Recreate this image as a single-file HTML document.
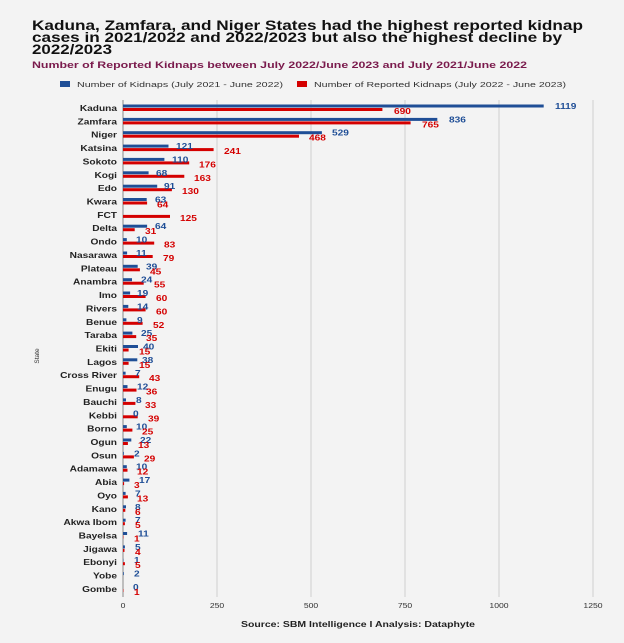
<!DOCTYPE html>
<html><head><meta charset="utf-8"><style>
html,body{margin:0;padding:0;background:#f3f3f3;}
svg{display:block;font-family:"Liberation Sans",sans-serif;}
.s{font-size:8px;font-weight:bold;fill:#222;text-anchor:end;}
.b{font-size:8px;font-weight:bold;fill:#1f4e96;}
.r{font-size:8px;font-weight:bold;fill:#d40000;}
</style></head><body>
<svg width="624" height="643" viewBox="0 0 624 643" xmlns="http://www.w3.org/2000/svg">
<rect width="624" height="643" fill="#f3f3f3"/>
<text x="32" y="30" font-size="14" font-weight="bold" fill="#111" textLength="551" lengthAdjust="spacingAndGlyphs">Kaduna, Zamfara, and Niger States had the highest reported kidnap</text>
<text x="32" y="42" font-size="14" font-weight="bold" fill="#111" textLength="530" lengthAdjust="spacingAndGlyphs">cases in 2021/2022 and 2022/2023 but also the highest decline by</text>
<text x="32" y="54" font-size="14" font-weight="bold" fill="#111" textLength="80" lengthAdjust="spacingAndGlyphs">2022/2023</text>
<text x="32" y="68" font-size="9" font-weight="bold" fill="#7a1a4c" textLength="495" lengthAdjust="spacingAndGlyphs">Number of Reported Kidnaps between July 2022/June 2023 and July 2021/June 2022</text>
<rect x="60" y="81" width="10" height="6" fill="#1f4e96"/>
<text x="77" y="87" font-size="7.6" fill="#333" textLength="206" lengthAdjust="spacingAndGlyphs">Number of Kidnaps (July 2021 - June 2022)</text>
<rect x="297" y="81" width="10" height="6" fill="#d40000"/>
<text x="314" y="87" font-size="7.6" fill="#333" textLength="252" lengthAdjust="spacingAndGlyphs">Number of Reported Kidnaps (July 2022 - June 2023)</text>
<g stroke="#cfcfcf" stroke-width="1">
<line x1="217" y1="100" x2="217" y2="597"/><line x1="311" y1="100" x2="311" y2="597"/>
<line x1="405" y1="100" x2="405" y2="597"/><line x1="499" y1="100" x2="499" y2="597"/>
<line x1="593" y1="100" x2="593" y2="597"/>
</g>
<line x1="123" y1="100" x2="123" y2="597" stroke="#888" stroke-width="1"/>
<g font-size="7.5" fill="#333" text-anchor="middle">
<text transform="translate(123,608) scale(1.15,1)">0</text><text transform="translate(217,608) scale(1.15,1)">250</text><text transform="translate(311,608) scale(1.15,1)">500</text><text transform="translate(405,608) scale(1.15,1)">750</text><text transform="translate(499,608) scale(1.15,1)">1000</text><text transform="translate(593,608) scale(1.15,1)">1250</text>
</g>
<text x="241" y="627" font-size="8" font-weight="bold" fill="#222" textLength="234" lengthAdjust="spacingAndGlyphs">Source: SBM Intelligence I Analysis: Dataphyte</text>
<text transform="translate(39,356) rotate(-90)" font-size="6.5" fill="#333" text-anchor="middle">State</text>
<g transform="translate(0,108)"><text class="s" transform="translate(117,3) scale(1.27,1)">Kaduna</text><rect x="123" y="-3.5" width="420.7" height="3" fill="#1f4e96"/><rect x="123" y="0" width="259.4" height="3" fill="#d40000"/><text class="b" transform="translate(555,1) scale(1.27,1)">1119</text><text class="r" transform="translate(394,6) scale(1.27,1)">690</text></g>
<g transform="translate(0,121.4)"><text class="s" transform="translate(117,3) scale(1.27,1)">Zamfara</text><rect x="123" y="-3.5" width="314.3" height="3" fill="#1f4e96"/><rect x="123" y="0" width="287.6" height="3" fill="#d40000"/><text class="b" transform="translate(449,1) scale(1.27,1)">836</text><text class="r" transform="translate(422,6) scale(1.27,1)">765</text></g>
<g transform="translate(0,134.7)"><text class="s" transform="translate(117,3) scale(1.27,1)">Niger</text><rect x="123" y="-3.5" width="198.9" height="3" fill="#1f4e96"/><rect x="123" y="0" width="176" height="3" fill="#d40000"/><text class="b" transform="translate(332,1) scale(1.27,1)">529</text><text class="r" transform="translate(309,6) scale(1.27,1)">468</text></g>
<g transform="translate(0,148.1)"><text class="s" transform="translate(117,3) scale(1.27,1)">Katsina</text><rect x="123" y="-3.5" width="45.5" height="3" fill="#1f4e96"/><rect x="123" y="0" width="90.6" height="3" fill="#d40000"/><text class="b" transform="translate(176,1) scale(1.27,1)">121</text><text class="r" transform="translate(224,6) scale(1.27,1)">241</text></g>
<g transform="translate(0,161.4)"><text class="s" transform="translate(117,3) scale(1.27,1)">Sokoto</text><rect x="123" y="-3.5" width="41.4" height="3" fill="#1f4e96"/><rect x="123" y="0" width="66.2" height="3" fill="#d40000"/><text class="b" transform="translate(172,1) scale(1.27,1)">110</text><text class="r" transform="translate(199,6) scale(1.27,1)">176</text></g>
<g transform="translate(0,174.8)"><text class="s" transform="translate(117,3) scale(1.27,1)">Kogi</text><rect x="123" y="-3.5" width="25.6" height="3" fill="#1f4e96"/><rect x="123" y="0" width="61.3" height="3" fill="#d40000"/><text class="b" transform="translate(156,1) scale(1.27,1)">68</text><text class="r" transform="translate(194,6) scale(1.27,1)">163</text></g>
<g transform="translate(0,188.2)"><text class="s" transform="translate(117,3) scale(1.27,1)">Edo</text><rect x="123" y="-3.5" width="34.2" height="3" fill="#1f4e96"/><rect x="123" y="0" width="48.9" height="3" fill="#d40000"/><text class="b" transform="translate(164,1) scale(1.27,1)">91</text><text class="r" transform="translate(182,6) scale(1.27,1)">130</text></g>
<g transform="translate(0,201.5)"><text class="s" transform="translate(117,3) scale(1.27,1)">Kwara</text><rect x="123" y="-3.5" width="23.7" height="3" fill="#1f4e96"/><rect x="123" y="0" width="24.1" height="3" fill="#d40000"/><text class="b" transform="translate(155,1) scale(1.27,1)">63</text><text class="r" transform="translate(157,6) scale(1.27,1)">64</text></g>
<g transform="translate(0,214.9)"><text class="s" transform="translate(117,3) scale(1.27,1)">FCT</text><rect x="123" y="0" width="47" height="3" fill="#d40000"/><text class="r" transform="translate(180,6) scale(1.27,1)">125</text></g>
<g transform="translate(0,228.2)"><text class="s" transform="translate(117,3) scale(1.27,1)">Delta</text><rect x="123" y="-3.5" width="24.1" height="3" fill="#1f4e96"/><rect x="123" y="0" width="11.7" height="3" fill="#d40000"/><text class="b" transform="translate(155,1) scale(1.27,1)">64</text><text class="r" transform="translate(145,6) scale(1.27,1)">31</text></g>
<g transform="translate(0,241.6)"><text class="s" transform="translate(117,3) scale(1.27,1)">Ondo</text><rect x="123" y="-3.5" width="3.8" height="3" fill="#1f4e96"/><rect x="123" y="0" width="31.2" height="3" fill="#d40000"/><text class="b" transform="translate(136,1) scale(1.27,1)">10</text><text class="r" transform="translate(164,6) scale(1.27,1)">83</text></g>
<g transform="translate(0,255)"><text class="s" transform="translate(117,3) scale(1.27,1)">Nasarawa</text><rect x="123" y="-3.5" width="4.1" height="3" fill="#1f4e96"/><rect x="123" y="0" width="29.7" height="3" fill="#d40000"/><text class="b" transform="translate(136,1) scale(1.27,1)">11</text><text class="r" transform="translate(163,6) scale(1.27,1)">79</text></g>
<g transform="translate(0,268.3)"><text class="s" transform="translate(117,3) scale(1.27,1)">Plateau</text><rect x="123" y="-3.5" width="14.7" height="3" fill="#1f4e96"/><rect x="123" y="0" width="16.9" height="3" fill="#d40000"/><text class="b" transform="translate(146,1) scale(1.27,1)">39</text><text class="r" transform="translate(150,6) scale(1.27,1)">45</text></g>
<g transform="translate(0,281.7)"><text class="s" transform="translate(117,3) scale(1.27,1)">Anambra</text><rect x="123" y="-3.5" width="9" height="3" fill="#1f4e96"/><rect x="123" y="0" width="20.7" height="3" fill="#d40000"/><text class="b" transform="translate(141,1) scale(1.27,1)">24</text><text class="r" transform="translate(154,6) scale(1.27,1)">55</text></g>
<g transform="translate(0,295)"><text class="s" transform="translate(117,3) scale(1.27,1)">Imo</text><rect x="123" y="-3.5" width="7.1" height="3" fill="#1f4e96"/><rect x="123" y="0" width="22.6" height="3" fill="#d40000"/><text class="b" transform="translate(137,1) scale(1.27,1)">19</text><text class="r" transform="translate(156,6) scale(1.27,1)">60</text></g>
<g transform="translate(0,308.4)"><text class="s" transform="translate(117,3) scale(1.27,1)">Rivers</text><rect x="123" y="-3.5" width="5.3" height="3" fill="#1f4e96"/><rect x="123" y="0" width="22.6" height="3" fill="#d40000"/><text class="b" transform="translate(137,1) scale(1.27,1)">14</text><text class="r" transform="translate(156,6) scale(1.27,1)">60</text></g>
<g transform="translate(0,321.8)"><text class="s" transform="translate(117,3) scale(1.27,1)">Benue</text><rect x="123" y="-3.5" width="3.4" height="3" fill="#1f4e96"/><rect x="123" y="0" width="19.6" height="3" fill="#d40000"/><text class="b" transform="translate(137,1) scale(1.27,1)">9</text><text class="r" transform="translate(153,6) scale(1.27,1)">52</text></g>
<g transform="translate(0,335.1)"><text class="s" transform="translate(117,3) scale(1.27,1)">Taraba</text><rect x="123" y="-3.5" width="9.4" height="3" fill="#1f4e96"/><rect x="123" y="0" width="13.2" height="3" fill="#d40000"/><text class="b" transform="translate(141,1) scale(1.27,1)">25</text><text class="r" transform="translate(146,6) scale(1.27,1)">35</text></g>
<g transform="translate(0,348.5)"><text class="s" transform="translate(117,3) scale(1.27,1)">Ekiti</text><rect x="123" y="-3.5" width="15" height="3" fill="#1f4e96"/><rect x="123" y="0" width="5.6" height="3" fill="#d40000"/><text class="b" transform="translate(143,1) scale(1.27,1)">40</text><text class="r" transform="translate(139,6) scale(1.27,1)">15</text></g>
<g transform="translate(0,361.8)"><text class="s" transform="translate(117,3) scale(1.27,1)">Lagos</text><rect x="123" y="-3.5" width="14.3" height="3" fill="#1f4e96"/><rect x="123" y="0" width="5.6" height="3" fill="#d40000"/><text class="b" transform="translate(142,1) scale(1.27,1)">38</text><text class="r" transform="translate(139,6) scale(1.27,1)">15</text></g>
<g transform="translate(0,375.2)"><text class="s" transform="translate(117,3) scale(1.27,1)">Cross River</text><rect x="123" y="-3.5" width="2.6" height="3" fill="#1f4e96"/><rect x="123" y="0" width="16.2" height="3" fill="#d40000"/><text class="b" transform="translate(135,1) scale(1.27,1)">7</text><text class="r" transform="translate(149,6) scale(1.27,1)">43</text></g>
<g transform="translate(0,388.6)"><text class="s" transform="translate(117,3) scale(1.27,1)">Enugu</text><rect x="123" y="-3.5" width="4.5" height="3" fill="#1f4e96"/><rect x="123" y="0" width="13.5" height="3" fill="#d40000"/><text class="b" transform="translate(137,1) scale(1.27,1)">12</text><text class="r" transform="translate(146,6) scale(1.27,1)">36</text></g>
<g transform="translate(0,401.9)"><text class="s" transform="translate(117,3) scale(1.27,1)">Bauchi</text><rect x="123" y="-3.5" width="3" height="3" fill="#1f4e96"/><rect x="123" y="0" width="12.4" height="3" fill="#d40000"/><text class="b" transform="translate(136,1) scale(1.27,1)">8</text><text class="r" transform="translate(145,6) scale(1.27,1)">33</text></g>
<g transform="translate(0,415.3)"><text class="s" transform="translate(117,3) scale(1.27,1)">Kebbi</text><rect x="123" y="0" width="14.7" height="3" fill="#d40000"/><text class="b" transform="translate(133,1) scale(1.27,1)">0</text><text class="r" transform="translate(148,6) scale(1.27,1)">39</text></g>
<g transform="translate(0,428.6)"><text class="s" transform="translate(117,3) scale(1.27,1)">Borno</text><rect x="123" y="-3.5" width="3.8" height="3" fill="#1f4e96"/><rect x="123" y="0" width="9.4" height="3" fill="#d40000"/><text class="b" transform="translate(136,1) scale(1.27,1)">10</text><text class="r" transform="translate(142,6) scale(1.27,1)">25</text></g>
<g transform="translate(0,442)"><text class="s" transform="translate(117,3) scale(1.27,1)">Ogun</text><rect x="123" y="-3.5" width="8.3" height="3" fill="#1f4e96"/><rect x="123" y="0" width="4.9" height="3" fill="#d40000"/><text class="b" transform="translate(140,1) scale(1.27,1)">22</text><text class="r" transform="translate(138,6) scale(1.27,1)">13</text></g>
<g transform="translate(0,455.4)"><text class="s" transform="translate(117,3) scale(1.27,1)">Osun</text><rect x="123" y="-3.5" width="0.8" height="3" fill="#1f4e96"/><rect x="123" y="0" width="10.9" height="3" fill="#d40000"/><text class="b" transform="translate(134,1) scale(1.27,1)">2</text><text class="r" transform="translate(144,6) scale(1.27,1)">29</text></g>
<g transform="translate(0,468.7)"><text class="s" transform="translate(117,3) scale(1.27,1)">Adamawa</text><rect x="123" y="-3.5" width="3.8" height="3" fill="#1f4e96"/><rect x="123" y="0" width="4.5" height="3" fill="#d40000"/><text class="b" transform="translate(136,1) scale(1.27,1)">10</text><text class="r" transform="translate(137,6) scale(1.27,1)">12</text></g>
<g transform="translate(0,482.1)"><text class="s" transform="translate(117,3) scale(1.27,1)">Abia</text><rect x="123" y="-3.5" width="6.4" height="3" fill="#1f4e96"/><rect x="123" y="0" width="1.1" height="3" fill="#d40000"/><text class="b" transform="translate(139,1) scale(1.27,1)">17</text><text class="r" transform="translate(134,6) scale(1.27,1)">3</text></g>
<g transform="translate(0,495.4)"><text class="s" transform="translate(117,3) scale(1.27,1)">Oyo</text><rect x="123" y="-3.5" width="2.6" height="3" fill="#1f4e96"/><rect x="123" y="0" width="4.9" height="3" fill="#d40000"/><text class="b" transform="translate(135,1) scale(1.27,1)">7</text><text class="r" transform="translate(137,6) scale(1.27,1)">13</text></g>
<g transform="translate(0,508.8)"><text class="s" transform="translate(117,3) scale(1.27,1)">Kano</text><rect x="123" y="-3.5" width="3" height="3" fill="#1f4e96"/><rect x="123" y="0" width="2.3" height="3" fill="#d40000"/><text class="b" transform="translate(135,1) scale(1.27,1)">8</text><text class="r" transform="translate(135,6) scale(1.27,1)">6</text></g>
<g transform="translate(0,522.2)"><text class="s" transform="translate(117,3) scale(1.27,1)">Akwa Ibom</text><rect x="123" y="-3.5" width="2.6" height="3" fill="#1f4e96"/><rect x="123" y="0" width="1.9" height="3" fill="#d40000"/><text class="b" transform="translate(135,1) scale(1.27,1)">7</text><text class="r" transform="translate(135,6) scale(1.27,1)">5</text></g>
<g transform="translate(0,535.5)"><text class="s" transform="translate(117,3) scale(1.27,1)">Bayelsa</text><rect x="123" y="-3.5" width="4.1" height="3" fill="#1f4e96"/><rect x="123" y="0" width="0.4" height="3" fill="#d40000"/><text class="b" transform="translate(138,1) scale(1.27,1)">11</text><text class="r" transform="translate(134,6) scale(1.27,1)">1</text></g>
<g transform="translate(0,548.9)"><text class="s" transform="translate(117,3) scale(1.27,1)">Jigawa</text><rect x="123" y="-3.5" width="1.9" height="3" fill="#1f4e96"/><rect x="123" y="0" width="1.5" height="3" fill="#d40000"/><text class="b" transform="translate(135,1) scale(1.27,1)">5</text><text class="r" transform="translate(135,6) scale(1.27,1)">4</text></g>
<g transform="translate(0,562.2)"><text class="s" transform="translate(117,3) scale(1.27,1)">Ebonyi</text><rect x="123" y="-3.5" width="0.4" height="3" fill="#1f4e96"/><rect x="123" y="0" width="1.9" height="3" fill="#d40000"/><text class="b" transform="translate(134,1) scale(1.27,1)">1</text><text class="r" transform="translate(135,6) scale(1.27,1)">5</text></g>
<g transform="translate(0,575.6)"><text class="s" transform="translate(117,3) scale(1.27,1)">Yobe</text><rect x="123" y="-3.5" width="0.8" height="3" fill="#1f4e96"/><text class="b" transform="translate(134,1) scale(1.27,1)">2</text></g>
<g transform="translate(0,589)"><text class="s" transform="translate(117,3) scale(1.27,1)">Gombe</text><rect x="123" y="0" width="0.4" height="3" fill="#d40000"/><text class="b" transform="translate(133,1) scale(1.27,1)">0</text><text class="r" transform="translate(134,6) scale(1.27,1)">1</text></g>
</svg>
</body></html>
